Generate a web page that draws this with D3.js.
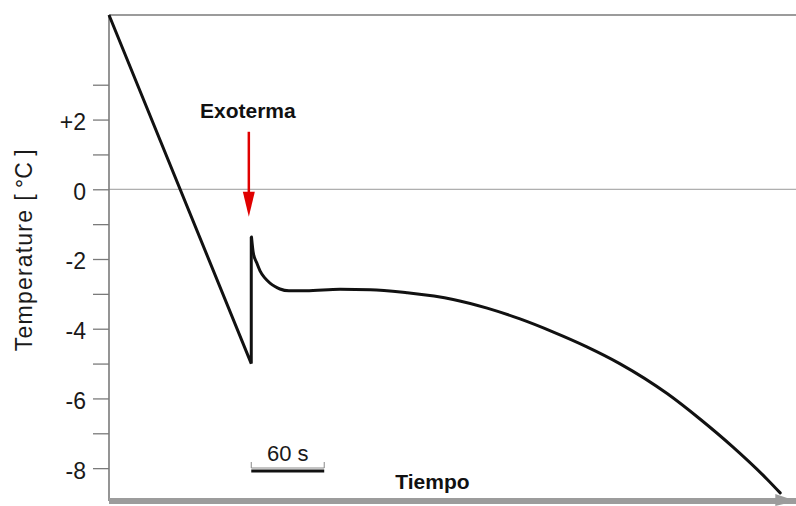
<!DOCTYPE html>
<html>
<head>
<meta charset="utf-8">
<script src="https://cdn.jsdelivr.net/npm/d3@7"></script>
<style>
  html, body { margin: 0; padding: 0; background: #fff; }
  svg { display: block; font-family: "Liberation Sans", Arial, Helvetica, sans-serif; }
</style>
</head>
<body>
<svg id="chart" width="796" height="506"></svg>
<script>
// ---- data (time in seconds, temperature in °C) ----
const coolTime = [0, 117, 117];
const coolTemp = [5.0, -5.0, -1.37];

const releaseTime = [117.2, 118.7, 121.5, 124.2, 128.3, 132.4, 136.5, 140.6, 148, 162,
  190, 215, 245, 283, 311, 338, 365, 393, 420, 459, 486, 513, 541, 552];
const releaseTemp = [-1.37, -1.83, -2.11, -2.34, -2.55, -2.69, -2.79, -2.86, -2.91, -2.91,
  -2.87, -2.88, -2.97, -3.16, -3.41, -3.72, -4.09, -4.52, -5.00, -5.86, -6.59, -7.39, -8.31, -8.71];

const majorTicks = [-8, -6, -4, -2, 0, 2];
const majorLabels = ["-8", "-6", "-4", "-2", "0", "+2"];
const minorTicks = [-7, -5, -3, -1, 1, 3];

const scaleBarStart = 117;   // s
const scaleBarLength = 60;   // s
const scaleBarLabel = "60 s";
const exothermTime = 115;
const exothermLabel = "Exoterma";
const xLabel = "Tiempo";
const yLabelMain = "Temperature";
const yLabelUnit = "[ °C ]";

// ---- scales ----
const svg = d3.select("#chart");
const x = d3.scaleLinear().domain([0, 565]).range([109, 796]);
const y = d3.scaleLinear().domain([-9, 5]).range([503, 15]);

const axisColor = "#7a7a7a";

// top frame line
svg.append("line")
  .attr("x1", x(0)).attr("x2", 796)
  .attr("y1", y(5)).attr("y2", y(5))
  .attr("stroke", axisColor).attr("stroke-width", 1.6);

// zero line
svg.append("line")
  .attr("x1", x(0)).attr("x2", 796)
  .attr("y1", y(0)).attr("y2", y(0))
  .attr("stroke", "#9a9a9a").attr("stroke-width", 1);

// y axis with ticks
const yAxis = d3.axisLeft(y)
  .tickValues(majorTicks.concat(minorTicks))
  .tickSize(16)
  .tickPadding(7)
  .tickFormat(d => { const i = majorTicks.indexOf(d); return i >= 0 ? majorLabels[i] : ""; });

const gy = svg.append("g").attr("transform", `translate(${x(0)},0)`).call(yAxis);
gy.select(".domain").remove();
gy.selectAll(".tick line").attr("stroke", axisColor).attr("stroke-width", 1.3);
gy.selectAll(".tick text")
  .attr("fill", "#1a1a1a")
  .style("font-size", "23px")
  .style("font-family", "'Liberation Sans', Arial, sans-serif")
  .attr("dy", "0.43em");

// y axis line
svg.append("line")
  .attr("x1", x(0)).attr("x2", x(0))
  .attr("y1", y(5)).attr("y2", y(-9) - 2)
  .attr("stroke", axisColor).attr("stroke-width", 1.6);

// bottom time axis (thick gray bar with small arrowhead)
svg.append("rect")
  .attr("x", x(0)).attr("width", 796 - x(0))
  .attr("y", y(-9) - 5).attr("height", 6)
  .attr("fill", "#9c9c9c");
svg.append("path")
  .attr("d", `M${x(548)},${y(-9) - 9} L${x(565)},${y(-9) - 2} L${x(548)},${y(-9) + 3} Z`)
  .attr("fill", "#9c9c9c");

// y label
const yl = svg.append("text")
  .attr("transform", `translate(32,${(y(-4.8) + y(1.3)) / 2}) rotate(-90)`)
  .attr("text-anchor", "middle")
  .attr("fill", "#1a1a1a")
  .style("font-size", "23px");
yl.append("tspan").style("letter-spacing", "1.2px").text(yLabelMain);
yl.append("tspan").attr("dx", 8).style("white-space", "pre").text(yLabelUnit);

// curve
const coolData = coolTime.map((t, i) => [t, coolTemp[i]]);
const releaseData = releaseTime.map((t, i) => [t, releaseTemp[i]]);

svg.append("path")
  .datum(coolData)
  .attr("d", d3.line().x(d => x(d[0])).y(d => y(d[1])).curve(d3.curveLinear))
  .attr("fill", "none").attr("stroke", "#111").attr("stroke-width", 3)
  .attr("stroke-linejoin", "miter");

svg.append("path")
  .datum(releaseData)
  .attr("d", d3.line().x(d => x(d[0])).y(d => y(d[1])).curve(d3.curveMonotoneX))
  .attr("fill", "none").attr("stroke", "#111").attr("stroke-width", 3)
  .attr("stroke-linecap", "round");

// exotherm arrow
const ax = x(exothermTime);
const tipY = y(-0.79);
svg.append("line")
  .attr("x1", ax).attr("x2", ax)
  .attr("y1", y(1.65)).attr("y2", tipY - 20)
  .attr("stroke", "#e00000").attr("stroke-width", 2.5);
svg.append("path")
  .attr("d", `M${ax - 6},${tipY - 25} L${ax + 6},${tipY - 25} L${ax},${tipY} Z`)
  .attr("fill", "#e00000");

svg.append("text")
  .attr("x", ax - 1).attr("y", y(2.05))
  .attr("text-anchor", "middle")
  .attr("fill", "#111")
  .style("font-size", "21px").style("font-weight", "bold")
  .text(exothermLabel);

// 60 s scale bar
const sx0 = x(scaleBarStart), sx1 = x(scaleBarStart + scaleBarLength);
svg.append("path")
  .attr("d", `M${sx0},462 L${sx0},468 L${sx1},468 L${sx1},462`)
  .attr("fill", "none").attr("stroke", "#888").attr("stroke-width", 1);
svg.append("line")
  .attr("x1", sx0).attr("x2", sx1).attr("y1", 471).attr("y2", 471)
  .attr("stroke", "#111").attr("stroke-width", 3);
svg.append("text")
  .attr("x", (sx0 + sx1) / 2).attr("y", 461)
  .attr("text-anchor", "middle")
  .attr("fill", "#1a1a1a")
  .style("font-size", "22px")
  .text(scaleBarLabel);

// x label
svg.append("text")
  .attr("x", x(266)).attr("y", 489)
  .attr("text-anchor", "middle")
  .attr("fill", "#111")
  .style("font-size", "21px").style("font-weight", "bold")
  .text(xLabel);
</script>
</body>
</html>
